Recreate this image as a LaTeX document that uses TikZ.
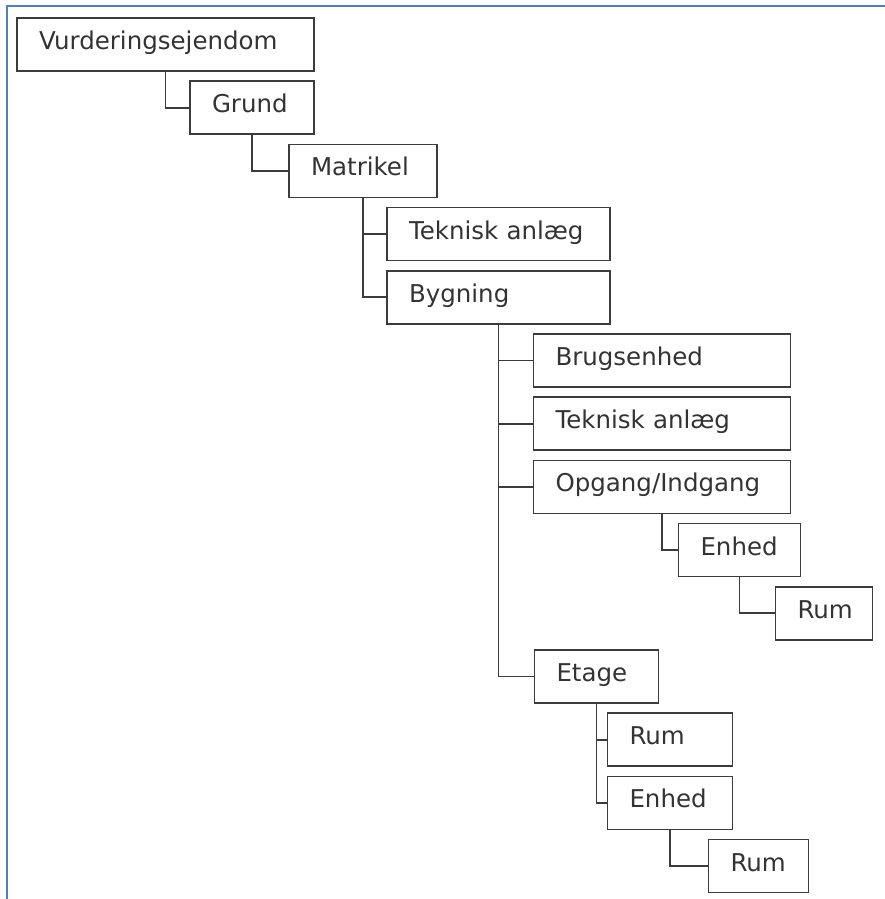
\documentclass[tikz,border=0pt]{standalone}
\usepackage{fontspec}
\setmainfont{DejaVu Sans}
\usetikzlibrary{positioning}
\definecolor{frameblue}{RGB}{79,129,189}
\definecolor{boxgray}{RGB}{60,60,60}
\definecolor{textgray}{RGB}{51,51,51}
\tikzset{
  box/.style  = {rectangle, draw=boxgray, line width=1.7pt, outer sep=0pt,
                 minimum height=53pt, inner xsep=22pt,
                 text height=21pt, text depth=11pt,
                 align=left, text=textgray,
                 font=\fontsize{24.5}{29}\selectfont},
  link/.style = {draw=boxgray, line width=1.7pt},
  frame/.style = {draw=frameblue, line width=2pt}
}

\begin{document}
\begin{tikzpicture}[x=1pt,y=-1pt]
  \useasboundingbox (0,0) rectangle (885,899);
  \draw[frame] (7,899) -- (7,6) -- (885,6);
  % ejendom -> grund -> matrikel
  \node[box,anchor=north west,text width=253pt] (v) at (17,18) {Vurderingsejendom};
  \node[box,below right=10.2pt and 24.5pt of v.south,text width=80pt] (g) {Grund};
  \node[box,below right=10.2pt and 37pt of g.south,text width=104pt] (m) {Matrikel};
  \node[box,below right=10.2pt and 24pt of m.south,text width=179pt] (t1) {Teknisk anlæg};
  \node[box,below=10.2pt of t1,text width=179pt] (b) {Bygning};
  % bygningens dele
  \node[box,below right=10.2pt and 35pt of b.south,text width=213pt] (be) {Brugsenhed};
  \node[box,below=10.2pt of be,text width=213pt] (t2) {Teknisk anlæg};
  \node[box,below=10.2pt of t2,text width=213pt] (og) {Opgang/Indgang};
  \node[box,below right=10.2pt and 16.5pt of og.south,text width=78pt] (e1) {Enhed};
  \node[box,below right=10.2pt and 36pt of e1.south,text width=53pt] (r1) {Rum};
  \coordinate (bx) at (b.south |- r1.south);
  \node[box,below right=10.2pt and 36pt of bx,text width=80pt] (et) {Etage};
  \node[box,below right=10.2pt and 11pt of et.south,text width=81pt] (r2) {Rum};
  \node[box,below=10.2pt of r2,text width=81pt] (e2) {Enhed};
  \node[box,below right=10.2pt and 38.5pt of e2.south,text width=56pt] (r3) {Rum};
  % forbindelser
  \draw[link] (v.south) |- (g.west);
  \draw[link] (g.south) |- (m.west);
  \draw[link] (m.south) |- (t1.west);
  \draw[link] (m.south) |- (b.west);
  \draw[link] (b.south) |- (be.west);
  \draw[link] (b.south) |- (t2.west);
  \draw[link] (b.south) |- (og.west);
  \draw[link] (b.south) |- (et.west);
  \draw[link] (og.south) |- (e1.west);
  \draw[link] (e1.south) |- (r1.west);
  \draw[link] (et.south) |- (r2.west);
  \draw[link] (et.south) |- (e2.west);
  \draw[link] (e2.south) |- (r3.west);
\end{tikzpicture}
\end{document}
